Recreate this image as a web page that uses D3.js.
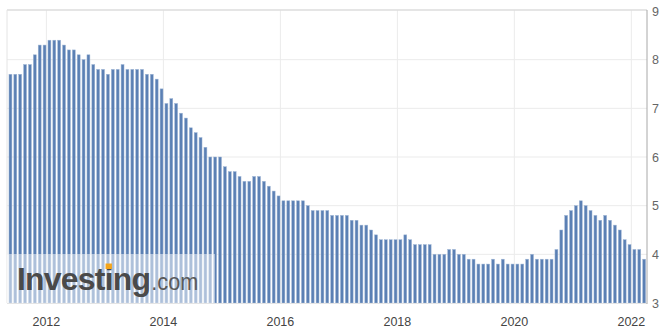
<!DOCTYPE html>
<html>
<head>
<meta charset="utf-8">
<script src="https://cdn.jsdelivr.net/npm/d3@7"></script>
<style>
  body { margin: 0; background: #fff; }
  text { font-family: "Liberation Sans", Arial, sans-serif; }
</style>
</head>
<body>
<script>
// monthly values, May 2011 .. Mar 2022
const startYear = 2011, startMonth = 4; // May (0-based)
const values = [
  7.7, 7.7, 7.7, 7.9, 7.9, 8.1, 8.3, 8.3,
  8.4, 8.4, 8.4, 8.3, 8.2, 8.2, 8.1, 8.0, 8.1, 7.9, 7.8, 7.8,
  7.7, 7.8, 7.8, 7.9, 7.8, 7.8, 7.8, 7.8, 7.7, 7.7, 7.6, 7.4,
  7.1, 7.2, 7.1, 6.9, 6.8, 6.6, 6.5, 6.4, 6.2, 6.0, 6.0, 6.0,
  5.8, 5.7, 5.7, 5.6, 5.5, 5.5, 5.6, 5.6, 5.5, 5.4, 5.3, 5.2,
  5.1, 5.1, 5.1, 5.1, 5.1, 5.0, 4.9, 4.9, 4.9, 4.9, 4.8, 4.8,
  4.8, 4.8, 4.7, 4.7, 4.6, 4.6, 4.5, 4.4, 4.3, 4.3, 4.3, 4.3,
  4.3, 4.4, 4.3, 4.2, 4.2, 4.2, 4.2, 4.0, 4.0, 4.0, 4.1, 4.1,
  4.0, 4.0, 3.9, 3.9, 3.8, 3.8, 3.8, 3.9, 3.8, 3.9, 3.8, 3.8,
  3.8, 3.8, 3.9, 4.0, 3.9, 3.9, 3.9, 3.9, 4.1, 4.5, 4.8, 4.9,
  5.0, 5.1, 5.0, 4.9, 4.8, 4.7, 4.8, 4.7, 4.6, 4.5, 4.3, 4.2,
  4.1, 4.1, 3.9
];
const yTicks = [3, 4, 5, 6, 7, 8, 9];
const xLabels = [2012, 2014, 2016, 2018, 2020, 2022];

// month keys
const months = values.map((v, i) => {
  const m = startMonth + i;
  return (startYear + Math.floor(m / 12)) + "-" + (m % 12 + 1);
});

const W = 670, H = 335;
const pLeft = 7, pRight = 647, pTop = 10, pBottom = 303;

const svg = d3.select("body").append("svg").attr("width", W).attr("height", H);

const x = d3.scaleBand().domain(months).range([8, 646.6]).paddingInner(0.4).paddingOuter(0.2);
const y = d3.scaleLinear().domain([3, 9]).range([pBottom, 11]);

// grid
svg.selectAll(".hg").data(yTicks.slice(1, -1)).enter().append("line")
  .attr("x1", pLeft).attr("x2", pRight)
  .attr("y1", d => y(d)).attr("y2", d => y(d))
  .attr("stroke", "#ebebeb").attr("stroke-width", 1);

const yearX = yr => x(yr + "-1") - 1.6;
svg.selectAll(".vg").data(xLabels).enter().append("line")
  .attr("x1", d => yearX(d)).attr("x2", d => yearX(d))
  .attr("y1", pTop).attr("y2", pBottom)
  .attr("stroke", "#ebebeb").attr("stroke-width", 1);

// bars
svg.selectAll(".bar").data(values).enter().append("rect")
  .attr("x", (d, i) => x(months[i]))
  .attr("width", x.bandwidth())
  .attr("y", d => y(d))
  .attr("height", d => pBottom - y(d))
  .attr("fill", "#5b80b4")
  .attr("stroke", "#9fb6d6")
  .attr("stroke-width", 0.5);

// frame
svg.append("line").attr("x1", pLeft).attr("x2", pRight).attr("y1", pTop).attr("y2", pTop)
  .attr("stroke", "#dcdcdc").attr("stroke-width", 1.5);
svg.append("line").attr("x1", pLeft).attr("x2", pLeft).attr("y1", pTop).attr("y2", pBottom)
  .attr("stroke", "#e4e4e4").attr("stroke-width", 1);
svg.append("line").attr("x1", pLeft).attr("x2", pRight).attr("y1", pBottom + 0.5).attr("y2", pBottom + 0.5)
  .attr("stroke", "#e4e4e4").attr("stroke-width", 1);
svg.append("line").attr("x1", pRight).attr("x2", pRight).attr("y1", pTop).attr("y2", pBottom + 1)
  .attr("stroke", "#a8a8a8").attr("stroke-width", 1);

// y labels
svg.selectAll(".yl").data(yTicks).enter().append("text")
  .attr("x", 652).attr("y", d => y(d) + 4.5)
  .attr("font-size", 12.5).attr("fill", "#666")
  .text(d => d);

// x labels
svg.selectAll(".xl").data(xLabels).enter().append("text")
  .attr("x", d => yearX(d)).attr("y", 326)
  .attr("text-anchor", "middle")
  .attr("font-size", 12.5).attr("fill", "#444")
  .text(d => d);

// watermark
svg.append("rect").attr("x", pLeft).attr("y", 254).attr("width", 208).attr("height", pBottom - 254)
  .attr("fill", "#fff").attr("opacity", 0.5);
const logo = svg.append("text").attr("x", 17).attr("y", 290)
  .attr("font-size", 32).attr("font-weight", "bold").attr("fill", "#4a4a4a")
  .attr("letter-spacing", -0.8)
  .text("Investing");
const lw = logo.node().getComputedTextLength();
svg.append("text").attr("x", 17 + lw + 1).attr("y", 290)
  .attr("font-size", 24).attr("fill", "#5a5a5a")
  .attr("textLength", 47).attr("lengthAdjust", "spacingAndGlyphs")
  .text(".com");
// orange dot on the lowercase i
const ext = logo.node().getExtentOfChar(6);
svg.append("rect")
  .attr("x", ext.x + ext.width / 2 - 3.2).attr("y", 263.5)
  .attr("width", 6.4).attr("height", 5.5)
  .attr("fill", "#f4a51c");
</script>
</body>
</html>
